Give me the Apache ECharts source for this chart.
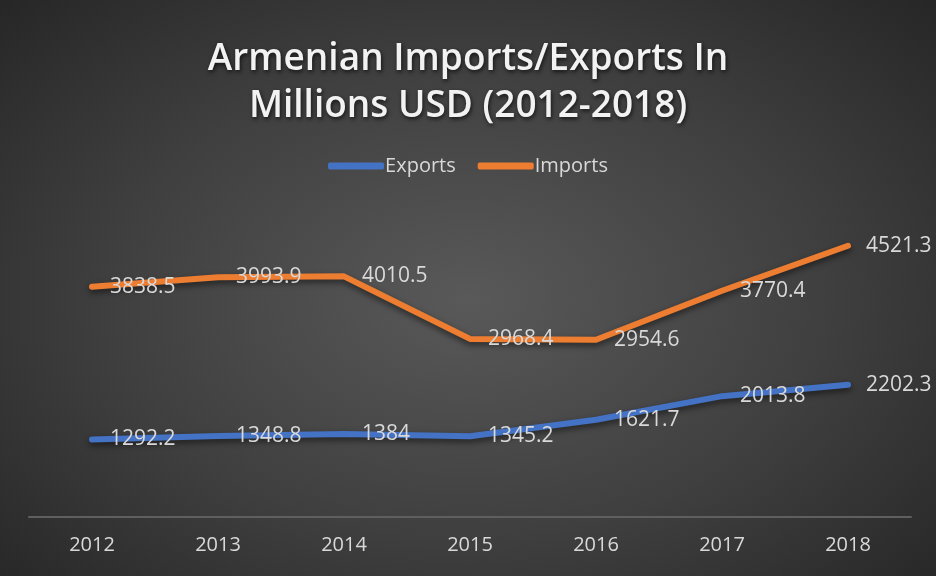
<!DOCTYPE html>
<html>
<head>
<meta charset="utf-8">
<script src="https://cdn.jsdelivr.net/npm/echarts@6/dist/echarts.min.js"></script>
<style>
  html, body { margin: 0; padding: 0; }
  #chart {
    width: 936px; height: 576px;
    background: radial-gradient(ellipse 70% 75% at 50% 52%, #595959 0%, #3f3f3f 55%, #262626 100%);
  }
</style>
</head>
<body>
<div id="chart"></div>
<script>
// Annual trade figures, millions USD
const years = ['2012', '2013', '2014', '2015', '2016', '2017', '2018'];
const exportsData = [1292.2, 1348.8, 1384, 1345.2, 1621.7, 2013.8, 2202.3];
const importsData = [3838.5, 3993.9, 4010.5, 2968.4, 2954.6, 3770.4, 4521.3];

const labelFont = '"Open Sans", "DejaVu Sans", sans-serif';
const textColor = '#d9d9d9';

function lineSeries(name, data, color) {
  return {
    name: name,
    type: 'line',
    data: data,
    symbol: 'circle',
    symbolSize: 4,
    showSymbol: true,
    itemStyle: { color: color },
    color: color,
    lineStyle: {
      width: 6,
      color: color,
      cap: 'round',
      join: 'round',
      shadowColor: 'rgba(0,0,0,0.55)',
      shadowBlur: 6,
      shadowOffsetY: 3
    },
    label: {
      show: true,
      position: 'right',
      distance: 16,
      color: textColor,
      fontFamily: labelFont,
      fontSize: 21
    },
    emphasis: { disabled: true },
    animation: false
  };
}

const chart = echarts.init(document.getElementById('chart'), null, { renderer: 'canvas' });
chart.setOption({
  backgroundColor: 'transparent',
  title: {
    text: 'Armenian Imports/Exports In\nMillions USD (2012-2018)',
    left: 'center',
    top: 31,
    textStyle: {
      color: '#f2f2f2',
      fontFamily: labelFont,
      fontWeight: 600,
      fontSize: 37,
      lineHeight: 47,
      textShadowColor: 'rgba(0,0,0,0.7)',
      textShadowBlur: 4,
      textShadowOffsetX: 1,
      textShadowOffsetY: 2
    }
  },
  legend: {
    top: 151,
    left: 'center',
    itemWidth: 56,
    itemHeight: 7,
    itemGap: 22,
    icon: 'roundRect',
    textStyle: { color: textColor, fontFamily: labelFont, fontSize: 20, padding: [0, 0, 0, -4] },
    data: ['Exports', 'Imports']
  },
  grid: { left: 29, right: 25, top: 217, bottom: 59, containLabel: false },
  xAxis: {
    type: 'category',
    data: years,
    boundaryGap: true,
    axisLine: { show: true, lineStyle: { color: '#5f5f5f', width: 2 } },
    axisTick: { show: false },
    axisLabel: { color: textColor, fontFamily: labelFont, fontSize: 20, margin: 18 }
  },
  yAxis: {
    type: 'value',
    min: 0,
    max: 5000,
    interval: 1000,
    show: false,
    splitLine: { show: false }
  },
  series: [
    lineSeries('Exports', exportsData, '#4472c4'),
    lineSeries('Imports', importsData, '#ed7d31')
  ]
});
</script>
</body>
</html>
